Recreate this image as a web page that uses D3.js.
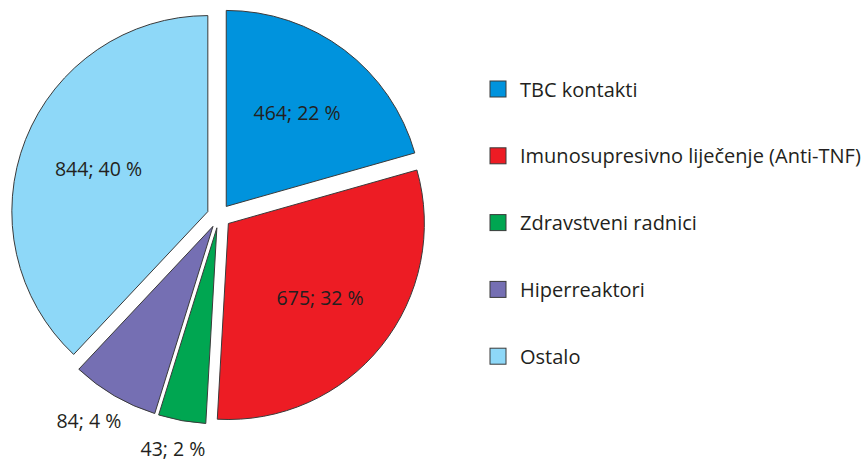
<!DOCTYPE html>
<html>
<head>
<meta charset="utf-8">
<script src="https://cdn.jsdelivr.net/npm/d3@7"></script>
<style>
  body { margin: 0; background: #fff; }
  text { font-family: "Open Sans", sans-serif; fill: #231f20; }
</style>
</head>
<body>
<div id="chart"></div>
<script>
(function(d3) {
    "use strict";

    var categories = ["TBC kontakti", "Imunosupresivno liječenje (Anti-TNF)", "Zdravstveni radnici", "Hiperreaktori", "Ostalo"];
    var counts = [464, 675, 43, 84, 844];
    var percents = [22, 32, 2, 4, 40];
    // slice sizes (%) as they are actually drawn in the picture
    var drawnShares = [20.6, 30.3, 3.9, 7.2, 38.0];
    var colors = ["#0093dd", "#ed1c24", "#00a651", "#756fb3", "#8ed8f8"];

    var width = 866, height = 459,
        cx = 219, cy = 216,
        radius = 196,
        explode = 12,
        labelSize = 19.5,
        legendSize = 20;

    var svg = d3.select("#chart").append("svg")
        .attr("width", width)
        .attr("height", height);

    var pie = d3.pie().sort(null).value(function(d) { return d; });
    var arc = d3.arc().innerRadius(0).outerRadius(radius);

    var slices = pie(drawnShares).map(function(s, i) {
        var mid = (s.startAngle + s.endAngle) / 2;
        return {
            arc: s, i: i, mid: mid,
            dx: Math.sin(mid) * explode,
            dy: -Math.cos(mid) * explode
        };
    });

    var g = svg.append("g").attr("transform", "translate(" + cx + "," + cy + ")");

    g.selectAll("path.slice")
        .data(slices)
        .enter().append("path")
        .attr("class", "slice")
        .attr("transform", function(d) { return "translate(" + d.dx + "," + d.dy + ")"; })
        .attr("d", function(d) { return arc(d.arc); })
        .attr("fill", function(d) { return colors[d.i]; })
        .attr("stroke", "#3a3a3a")
        .attr("stroke-width", 1)
        .attr("stroke-linejoin", "miter");

    // labels: big slices inside, small ones outside the rim
    g.selectAll("text.lbl")
        .data(slices)
        .enter().append("text")
        .attr("class", "lbl")
        .attr("font-size", labelSize)
        .attr("text-anchor", "middle")
        .attr("dominant-baseline", "central")
        .text(function(d) { return counts[d.i] + "; " + percents[d.i] + " %"; })
        .each(function(d) {
            var inside = percents[d.i] >= 10;
            var rr = inside ? radius * 0.6 : radius + 18;
            var sx = Math.sin(d.mid), sy = -Math.cos(d.mid);
            var x = sx * rr + d.dx,
                y = sy * rr + d.dy;
            if (!inside) {
                // push the text box out so it sits next to the rim point
                x += sx * this.getComputedTextLength() / 2;
                y += sy * labelSize * 0.55;
            }
            d3.select(this).attr("x", x).attr("y", y);
        });

    // legend
    var legend = svg.append("g").attr("transform", "translate(490,89)");
    var row = legend.selectAll("g")
        .data(categories)
        .enter().append("g")
        .attr("transform", function(d, i) { return "translate(0," + (i * 66.8) + ")"; });

    row.append("rect")
        .attr("x", 0).attr("y", -8)
        .attr("width", 16).attr("height", 16)
        .attr("fill", function(d, i) { return colors[i]; })
        .attr("stroke", "#3a3a3a")
        .attr("stroke-width", 1);

    row.append("text")
        .attr("x", 30)
        .attr("y", 0)
        .attr("font-size", legendSize)
        .attr("dominant-baseline", "central")
        .text(function(d) { return d; });

})(d3);
</script>
</body>
</html>
